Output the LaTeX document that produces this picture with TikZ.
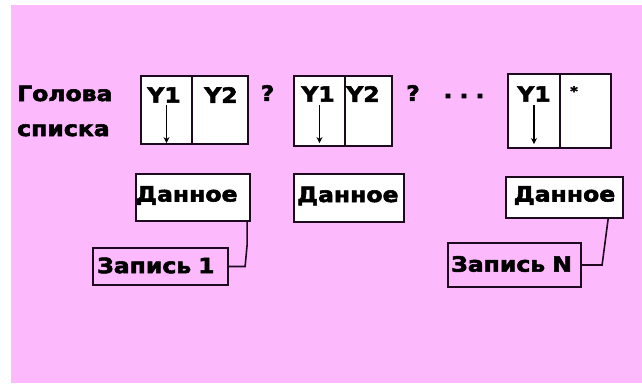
\documentclass[tikz,border=0pt]{standalone}
\usepackage{fontspec}
\setmainfont{DejaVu Sans}[FakeStretch=1.15]
\newfontfamily\pixfont{DejaVu Sans Bold}[FakeStretch=1.12,FakeBold=2.6]
\usetikzlibrary{arrows.meta}
\definecolor{bgpink}{RGB}{252,186,252}
\definecolor{edge}{RGB}{30,10,30}
\tikzset{
  txt/.style={font=\fontsize{21}{22}\pixfont, inner sep=0pt},
  cell/.style={draw=edge, line width=2.2pt, fill=white, inner sep=0pt},
  databox/.style={draw=edge, line width=2.2pt, fill=white, inner sep=0pt},
  recbox/.style={draw=edge, line width=2.2pt, fill=bgpink, inner sep=0pt},
  ptr/.style={line width=1.1pt, -{Stealth[length=6pt,width=6pt]}},
  link/.style={draw=edge, line width=1.6pt}
}
\begin{document}
\begin{tikzpicture}[x=1pt,y=-1pt]
\useasboundingbox (0,0) rectangle (642,383);
\fill[white] (0,0) rectangle (642,383);
\fill[bgpink] (11,5) rectangle (642,383);

% head label
\node[txt, anchor=west, align=left, font=\fontsize{21}{35}\pixfont] (head) at (17,111) {Голова\\списка};

% list element 1
\node[cell, minimum width=51, minimum height=68] (c1a) at (166.5,110) {};
\node[cell, minimum width=56, minimum height=68] (c1b) at (220,110) {};
\node[txt] (y11) at (164,95) {Y1};
\node[txt] (y12) at (221,95) {Y2};
\draw[ptr] ([yshift=5]c1a.center) -- ([yshift=2]c1a.south);
\node[txt] (q1) at (267.5,93) {?};

% list element 2
\node[cell, minimum width=51, minimum height=70] (c2a) at (319.5,111) {};
\node[cell, minimum width=47, minimum height=70] (c2b) at (368.5,111) {};
\node[txt] (y21) at (318,94) {Y1};
\node[txt] (y22) at (363,94) {Y2};
\draw[ptr] ([yshift=6]c2a.center) -- ([yshift=4]c2a.south);
\node[txt] (q2) at (413,93) {?};
\node[txt] (dots) at (464,96) {.\,\,.\,\,.};

% list element N
\node[cell, minimum width=52, minimum height=74] (c3a) at (534,111) {};
\node[cell, minimum width=51, minimum height=74] (c3b) at (585.5,111) {};
\node[txt] (y31) at (534,94) {Y1};
\node[txt, font=\fontsize{13}{14}\pixfont] (star) at (574,91) {*};
\draw[ptr] ([yshift=6]c3a.center) -- ([yshift=5]c3a.south);

% data boxes
\node[databox, minimum width=114, minimum height=47] (d1) at (193,197.5) {};
\node[txt, anchor=west] (d1t) at ([xshift=1,yshift=2]d1.west) {Данное};
\node[databox, minimum width=110, minimum height=48] (d2) at (349,198) {};
\node[txt, anchor=west] (d2t) at ([xshift=4,yshift=2]d2.west) {Данное};
\node[databox, minimum width=117, minimum height=41] (d3) at (564.5,197.5) {};
\node[txt] (d3t) at ([yshift=2]d3.center) {Данное};

% record boxes
\node[recbox, minimum width=135, minimum height=37] (z1) at (160.5,266.5) {};
\node[txt, anchor=west] (z1t) at ([xshift=5,yshift=1]z1.west) {Запись\,\,1};
\node[recbox, minimum width=133, minimum height=44] (zn) at (514.5,265) {};
\node[txt, anchor=west] (znt) at ([xshift=4,yshift=1]zn.west) {Запись\,\,N};

% links
\coordinate (k1) at ([xshift=-4]d1.south east);
\draw[link] (k1) -- (k1 |- 0,245) -- ([xshift=-2]k1 |- z1.east) -- (z1.east);
\coordinate (kn) at ([xshift=-16]d3.south east);
\draw[link] (kn) -- ([xshift=-6]kn |- zn.east) -- (zn.east);
\end{tikzpicture}
\end{document}
